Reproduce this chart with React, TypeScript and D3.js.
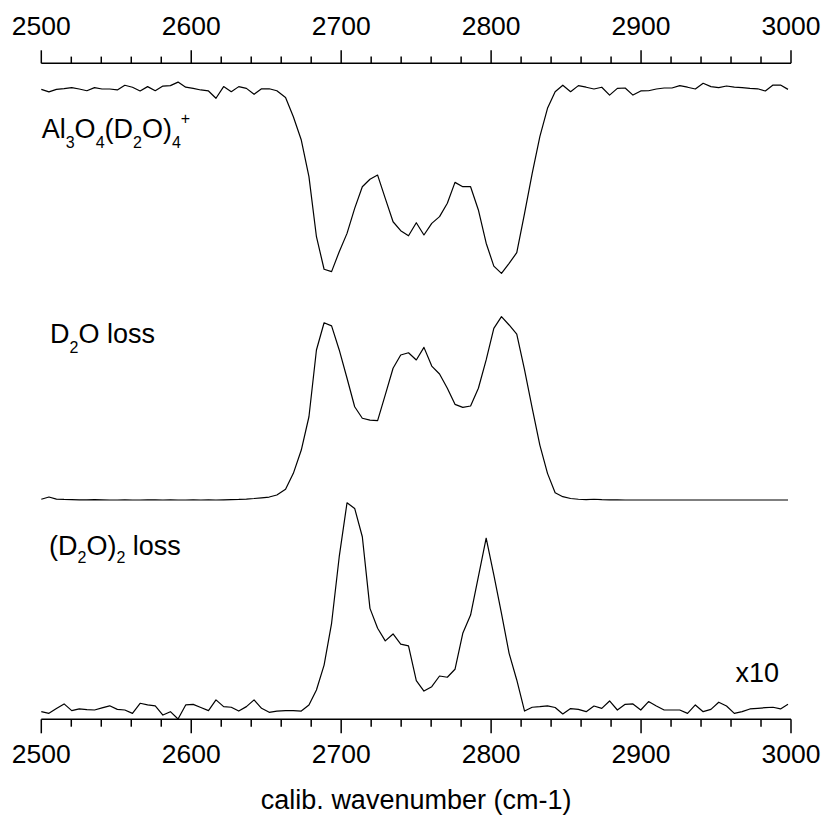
import React from 'react';
import * as d3 from 'd3';

// calibrated wavenumbers (cm-1) of the data points
const wavenumbers = [
  2500.0, 2505.1, 2510.1, 2515.2, 2520.3, 2525.3, 2530.4, 2535.5, 2540.5, 2545.6,
  2550.7, 2555.7, 2560.8, 2565.9, 2570.9, 2576.0, 2581.1, 2586.1, 2591.2, 2596.3,
  2601.3, 2606.4, 2611.5, 2616.5, 2621.6, 2626.7, 2631.7, 2636.8, 2641.9, 2646.9,
  2652.0, 2657.1, 2662.9, 2668.1, 2673.4, 2678.5, 2683.5, 2688.6, 2693.6, 2698.7,
  2703.9, 2709.0, 2714.1, 2719.2, 2724.3, 2729.4, 2734.6, 2739.7, 2744.9, 2750.1,
  2755.2, 2760.4, 2765.6, 2770.8, 2775.9, 2781.1, 2786.3, 2791.5, 2796.7, 2801.8,
  2806.9, 2812.0, 2817.1, 2822.3, 2827.4, 2832.5, 2837.6, 2842.7, 2847.8, 2853.0,
  2858.2, 2863.4, 2868.6, 2873.8, 2879.0, 2884.2, 2889.4, 2894.6, 2899.8, 2905.0,
  2910.2, 2915.4, 2920.6, 2925.8, 2931.0, 2936.2, 2941.4, 2946.6, 2951.8, 2957.0,
  2962.2, 2967.4, 2972.6, 2977.8, 2982.9, 2988.0, 2993.0, 2998.0,
];

// Al3O4(D2O)4+ parent ion signal (normalized)
const parentSignal = [
  0.993, 0.980, 0.993, 0.997, 1.002, 0.995, 0.986, 1.002, 0.995, 0.995,
  0.990, 1.014, 1.004, 0.985, 1.007, 0.986, 1.010, 1.012, 1.030, 1.004,
  0.998, 0.990, 0.985, 0.948, 1.007, 0.981, 1.007, 0.998, 0.968, 0.996,
  0.996, 0.986, 0.952, 0.854, 0.736, 0.550, 0.245, 0.080, 0.068, 0.169,
  0.262, 0.389, 0.499, 0.537, 0.558, 0.440, 0.321, 0.276, 0.250, 0.316,
  0.254, 0.313, 0.347, 0.415, 0.521, 0.499, 0.499, 0.381, 0.212, 0.096,
  0.059, 0.110, 0.164, 0.364, 0.567, 0.753, 0.897, 0.981, 1.014, 0.981,
  1.012, 1.004, 0.995, 1.004, 0.964, 0.998, 1.000, 0.964, 0.985, 0.986,
  0.995, 1.000, 1.000, 1.012, 1.004, 0.995, 1.024, 1.007, 1.002, 1.010,
  1.004, 1.002, 0.998, 0.996, 0.985, 1.015, 1.015, 0.993,
];

// D2O loss fragment signal (normalized)
const d2oLoss = [
  0.004, 0.016, 0.005, 0.003, 0.002, 0.001, 0.001, 0.002, 0.001, 0.000,
  0.000, 0.001, 0.000, 0.000, 0.001, 0.001, 0.000, 0.001, 0.000, 0.000,
  0.001, 0.000, 0.001, 0.000, 0.001, 0.002, 0.003, 0.005, 0.008, 0.012,
  0.016, 0.027, 0.058, 0.144, 0.270, 0.450, 0.811, 0.958, 0.941, 0.811,
  0.658, 0.504, 0.442, 0.432, 0.429, 0.568, 0.712, 0.784, 0.796, 0.757,
  0.825, 0.724, 0.681, 0.604, 0.517, 0.501, 0.508, 0.604, 0.757, 0.928,
  0.991, 0.946, 0.896, 0.703, 0.496, 0.297, 0.144, 0.039, 0.018, 0.008,
  0.004, 0.002, 0.004, 0.002, 0.001, 0.001, 0.000, 0.000, 0.000, 0.000,
  0.000, 0.000, 0.000, 0.000, 0.000, 0.000, 0.000, 0.000, 0.000, 0.000,
  0.000, 0.000, 0.000, 0.000, 0.000, 0.000, 0.000, 0.000,
];

// (D2O)2 loss fragment signal (x10, normalized)
const d2o2Loss = [
  -0.008, -0.016, 0.007, 0.029, -0.003, 0.005, 0.002, 0.000, 0.010, 0.020,
  0.003, 0.000, -0.016, 0.032, 0.024, 0.020, -0.024, -0.008, -0.043, 0.024,
  0.027, 0.012, -0.003, 0.048, 0.016, 0.013, -0.005, 0.016, 0.048, 0.008,
  -0.011, -0.005, -0.003, -0.003, -0.005, 0.024, 0.095, 0.214, 0.413, 0.730,
  0.987, 0.960, 0.825, 0.484, 0.389, 0.329, 0.362, 0.314, 0.305, 0.140,
  0.090, 0.111, 0.162, 0.156, 0.194, 0.365, 0.452, 0.635, 0.818, 0.643,
  0.460, 0.270, 0.143, -0.005, 0.013, 0.016, 0.020, 0.012, -0.019, 0.007,
  0.003, -0.008, 0.019, 0.008, 0.043, 0.000, 0.027, 0.029, 0.000, 0.040,
  0.019, 0.000, 0.000, 0.000, -0.016, 0.024, -0.008, 0.003, 0.037, 0.019,
  -0.016, -0.008, 0.005, 0.008, 0.011, 0.013, 0.005, 0.027,
];

const majorTickValues = [2500, 2600, 2700, 2800, 2900, 3000];
const xDomain = [2500, 3000];

const FONT = '"Liberation Sans", Arial, Helvetica, sans-serif';

export default function App() {
  const W = 825;
  const H = 815;
  const x = d3.scaleLinear().domain(xDomain).range([41.3, 791]);
  const yTop = d3.scaleLinear().domain([0, 1]).range([285, 88]);
  const yMid = d3.scaleLinear().domain([0, 1]).range([500, 315]);
  const yBot = d3.scaleLinear().domain([0, 1]).range([710, 500]);

  const mk = (vals: number[], y: d3.ScaleLinear<number, number>) =>
    d3
      .line<number>()
      .x((_, i) => x(wavenumbers[i]))
      .y((d) => y(d))(vals) || '';

  const minorTicks = x.ticks(25).filter((t) => !majorTickValues.includes(t));
  const topAxisY = 63.3;
  const botAxisY = 719.3;

  return (
    <div style={{ position: 'absolute', left: 0, top: 0 }}>
      <svg width={W} height={H} style={{ display: 'block', background: '#fff' }} fontFamily={FONT}>
        {/* top axis */}
        <line x1={x(2500)} x2={x(3000)} y1={topAxisY} y2={topAxisY} stroke="#000" strokeWidth={1.5} />
        {majorTickValues.map((t) => (
          <line key={'tM' + t} x1={x(t)} x2={x(t)} y1={topAxisY} y2={topAxisY - 13} stroke="#000" strokeWidth={1.5} />
        ))}
        {minorTicks.map((t) => (
          <line key={'tm' + t} x1={x(t)} x2={x(t)} y1={topAxisY} y2={topAxisY - 6.7} stroke="#000" strokeWidth={1.5} />
        ))}
        {majorTickValues.map((t) => (
          <text key={'tl' + t} x={x(t)} y={35} textAnchor="middle" fontSize={26.5} fill="#000">
            {t}
          </text>
        ))}

        {/* bottom axis */}
        <line x1={x(2500)} x2={x(3000)} y1={botAxisY} y2={botAxisY} stroke="#000" strokeWidth={1.5} />
        {majorTickValues.map((t) => (
          <line key={'bM' + t} x1={x(t)} x2={x(t)} y1={botAxisY} y2={botAxisY + 14} stroke="#000" strokeWidth={1.5} />
        ))}
        {minorTicks.map((t) => (
          <line key={'bm' + t} x1={x(t)} x2={x(t)} y1={botAxisY} y2={botAxisY + 7.4} stroke="#000" strokeWidth={1.5} />
        ))}
        {majorTickValues.map((t) => (
          <text key={'bl' + t} x={x(t)} y={762.7} textAnchor="middle" fontSize={26.5} fill="#000">
            {t}
          </text>
        ))}
        <text x={(x(2500) + x(3000)) / 2} y={809} textAnchor="middle" fontSize={27} fill="#000">
          calib. wavenumber (cm-1)
        </text>

        {/* traces */}
        <path d={mk(parentSignal, yTop)} fill="none" stroke="#000" strokeWidth={1.2} strokeLinejoin="round" />
        <path d={mk(d2oLoss, yMid)} fill="none" stroke="#000" strokeWidth={1.2} strokeLinejoin="round" />
        <path d={mk(d2o2Loss, yBot)} fill="none" stroke="#000" strokeWidth={1.2} strokeLinejoin="round" />

        {/* labels */}
        <text x={41.7} y={138.3} fontSize={27} fill="#000">
          Al
          <tspan fontSize={16} dy={10}>3</tspan>
          <tspan dy={-10}>O</tspan>
          <tspan fontSize={16} dy={10}>4</tspan>
          <tspan dy={-10}>(D</tspan>
          <tspan fontSize={16} dy={10}>2</tspan>
          <tspan dy={-10}>O)</tspan>
          <tspan fontSize={16} dy={10}>4</tspan>
          <tspan fontSize={16} dy={-24}>+</tspan>
        </text>
        <text x={50} y={343.3} fontSize={27} fill="#000">
          D
          <tspan fontSize={16} dy={10}>2</tspan>
          <tspan dy={-10}>O loss</tspan>
        </text>
        <text x={49} y={555} fontSize={27} fill="#000">
          (D
          <tspan fontSize={16} dy={8}>2</tspan>
          <tspan dy={-8}>O)</tspan>
          <tspan fontSize={16} dy={8}>2</tspan>
          <tspan dy={-8}> loss</tspan>
        </text>
        <text x={735.5} y={681.7} fontSize={27} fill="#000">
          x10
        </text>
      </svg>
    </div>
  );
}
